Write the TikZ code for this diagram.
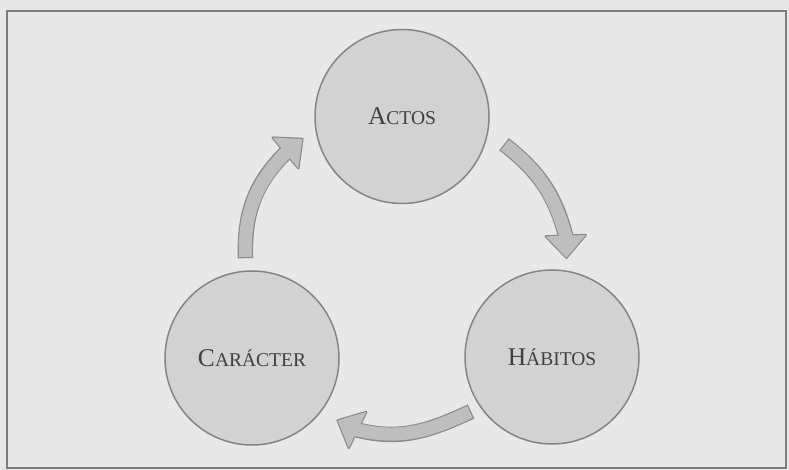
\documentclass[tikz,border=0pt]{standalone}
\usepackage{fontspec}
\setmainfont{Liberation Serif}
\usetikzlibrary{calc}
\definecolor{bg}{HTML}{E8E8E8}
\definecolor{framec}{HTML}{7C7C7C}
\definecolor{circfill}{HTML}{D2D2D2}
\definecolor{circline}{HTML}{858585}
\definecolor{arrfill}{HTML}{BEBEBE}
\definecolor{arrline}{HTML}{8A8A8A}
\definecolor{txt}{HTML}{404040}
\newcommand{\scx}[2]{{\fontsize{25.5}{26}\selectfont #1}{\fontsize{19.5}{20}\selectfont #2}}
% #1 tail, #2 out angle, #3 head base mid, #4 in angle, #5 head direction
\newcommand{\blockarrow}[5]{%
  \draw[arrline, line width=15.5pt, shorten <=-1.2pt] (#1) to[out=#2,in=#4] (#3);
  \filldraw[arrline, line width=2.4pt, line join=round]
    ($(#3)+(#5+90:20)$) -- ($(#3)+(#5:22)$) -- ($(#3)+(#5-90:20)$) -- cycle;
  \draw[arrfill, line width=13.1pt, shorten >=-4pt] (#1) to[out=#2,in=#4] (#3);
  \fill[arrfill]
    ($(#3)+(#5+90:20)$) -- ($(#3)+(#5:22)$) -- ($(#3)+(#5-90:20)$) -- cycle;
}
\begin{document}
\begin{tikzpicture}[x=1pt,y=1pt,
  stage/.style={circle, draw=circline, line width=1.5pt, fill=circfill,
    minimum size=174pt, inner sep=0pt, text=txt}]
\fill[bg] (0,0) rectangle (789,470);
\useasboundingbox (0,0) rectangle (789,470);
\draw[framec, line width=2pt] (7,2) rectangle (786,459);

\node[stage] (actos) at (402,353.5) {\scx{A}{CTOS}};
\node[stage] (car) at (252,112) {\scx{C}{ARÁCTER}};
\node[stage] (hab) at (552,113) {\scx{H}{ÁBITOS}};

\coordinate (a1s) at ($(car)+(-6.5,101)$);
\coordinate (a1e) at ($(actos)+(-116.5,-36.5)$);
\coordinate (a2s) at ($(actos)+(103,-28.5)$);
\coordinate (a2e) at ($(hab)+(13.7,121.3)$);
\coordinate (a3s) at ($(hab)+(-82,-55)$);
\coordinate (a3e) at ($(car)+(105.5,-72)$);

\blockarrow{a1s}{92}{a1e}{225}{40}
\blockarrow{a2s}{-38}{a2e}{105}{-88}
\blockarrow{a3s}{205}{a3e}{-14}{154}
\end{tikzpicture}
\end{document}
